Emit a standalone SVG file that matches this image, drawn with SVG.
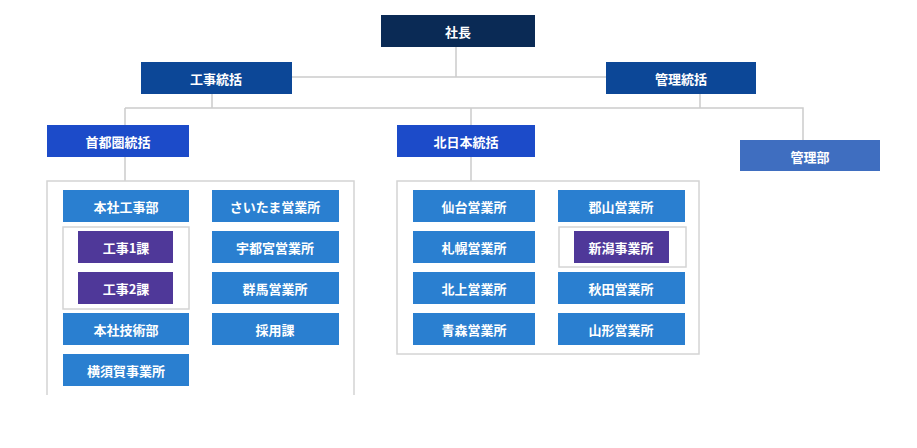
<svg xmlns="http://www.w3.org/2000/svg" width="917" height="448" viewBox="0 0 917 448">
<style>
text{font-family:"Noto Sans CJK JP","Noto Sans",sans-serif;font-size:13px;font-weight:bold;fill:#fff;text-anchor:middle;dominant-baseline:central}
.l{stroke:#cccccc;stroke-width:1.5;fill:none}
.c{stroke:#d4d4d4;stroke-width:1.5;fill:#fff}
.o{fill:#2a7fd0}.p{fill:#4f3899}
</style>
<rect width="917" height="448" fill="#fff"/>
<g id="connectors">
<path class="l" d="M456 47V77M292 77H606M212 94V108M700 93V108M125 108H803V140M125 108V125M471 108V125M125 157V181M471 157V181M126 222V227M621 222V227"/>
</g>
<g id="containers">
<path class="c" d="M47 395V181H354V395"/>
<rect class="c" x="397" y="181" width="302" height="173"/>
<rect class="c" x="63" y="227" width="126" height="82"/>
<rect class="c" x="559" y="227" width="127" height="40"/>
</g>
<g id="shacho"><rect x="381" y="15" width="154" height="32" fill="#0a2a55"/><text x="458" y="31">社長</text></g>
<g id="kouji"><rect x="141" y="62" width="151" height="32" fill="#0c4797"/><text x="216" y="78">工事統括</text></g>
<g id="kanri"><rect x="606" y="62" width="150" height="32" fill="#0c4797"/><text x="681" y="78">管理統括</text></g>
<g id="shutoken"><rect x="47" y="125" width="142" height="32" fill="#1c4bc9"/><text x="118" y="141">首都圏統括</text></g>
<g id="kitanihon"><rect x="397" y="125" width="138" height="32" fill="#1c4bc9"/><text x="466" y="141">北日本統括</text></g>
<g id="kanribu"><rect x="740" y="140" width="140" height="31" fill="#3f6ec0"/><text x="810" y="156">管理部</text></g>
<g id="honsha-kouji"><rect class="o" x="63" y="190" width="126" height="32"/><text x="126" y="206">本社工事部</text></g>
<g id="kouji1"><rect class="p" x="78" y="231" width="95" height="32"/><text x="126" y="247">工事1課</text></g>
<g id="kouji2"><rect class="p" x="78" y="272" width="95" height="32"/><text x="126" y="288">工事2課</text></g>
<g id="honsha-gijutsu"><rect class="o" x="63" y="313" width="126" height="32"/><text x="126" y="329">本社技術部</text></g>
<g id="yokosuka"><rect class="o" x="63" y="354" width="126" height="32"/><text x="126" y="370">横須賀事業所</text></g>
<g id="saitama"><rect class="o" x="212" y="190" width="127" height="32"/><text x="275" y="206">さいたま営業所</text></g>
<g id="utsunomiya"><rect class="o" x="212" y="231" width="127" height="32"/><text x="275" y="247">宇都宮営業所</text></g>
<g id="gunma"><rect class="o" x="212" y="272" width="127" height="32"/><text x="275" y="288">群馬営業所</text></g>
<g id="saiyou"><rect class="o" x="212" y="313" width="127" height="32"/><text x="275" y="329">採用課</text></g>
<g id="sendai"><rect class="o" x="413" y="190" width="122" height="32"/><text x="474" y="206">仙台営業所</text></g>
<g id="sapporo"><rect class="o" x="413" y="231" width="122" height="32"/><text x="474" y="247">札幌営業所</text></g>
<g id="kitakami"><rect class="o" x="413" y="272" width="122" height="32"/><text x="474" y="288">北上営業所</text></g>
<g id="aomori"><rect class="o" x="413" y="313" width="122" height="32"/><text x="474" y="329">青森営業所</text></g>
<g id="koriyama"><rect class="o" x="558" y="190" width="127" height="32"/><text x="621" y="206">郡山営業所</text></g>
<g id="niigata"><rect class="p" x="574" y="231" width="95" height="32"/><text x="621" y="247">新潟事業所</text></g>
<g id="akita"><rect class="o" x="558" y="272" width="127" height="32"/><text x="621" y="288">秋田営業所</text></g>
<g id="yamagata"><rect class="o" x="558" y="313" width="127" height="32"/><text x="621" y="329">山形営業所</text></g>
</svg>
